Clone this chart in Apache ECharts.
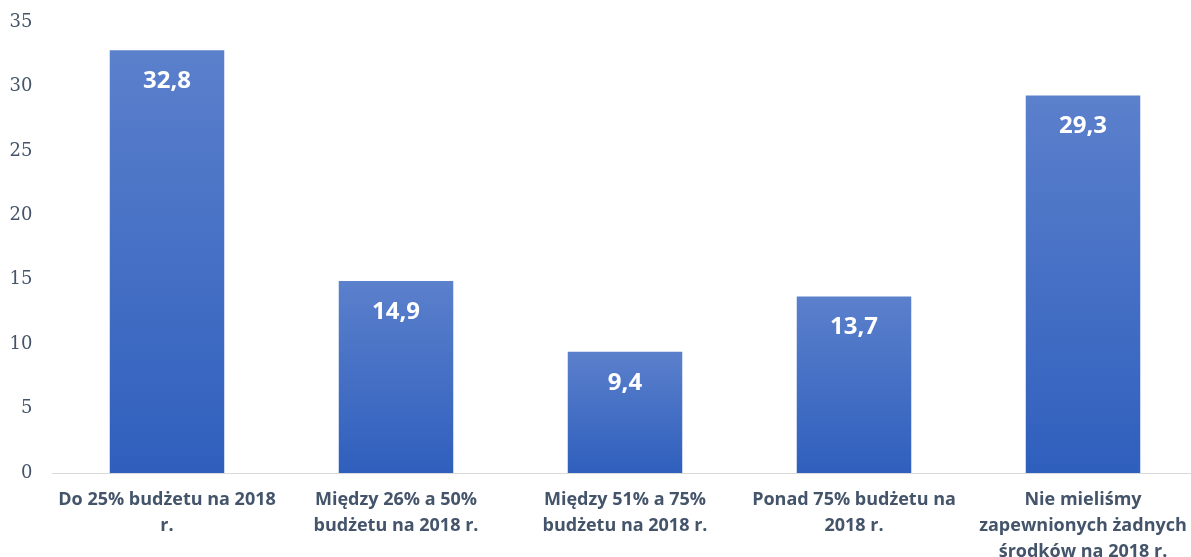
<!DOCTYPE html>
<html><head><meta charset="utf-8">
<script src="https://cdn.jsdelivr.net/npm/echarts@6/dist/echarts.min.js"></script>
<style>html,body{margin:0;padding:0;background:#fff}#c{width:1191px;height:557px}</style>
</head><body><div id="c"></div>
<script>
var categories = [
  "Do 25% budżetu na 2018\nr.",
  "Między 26% a 50%\nbudżetu na 2018 r.",
  "Między 51% a 75%\nbudżetu na 2018 r.",
  "Ponad 75% budżetu na\n2018 r.",
  "Nie mieliśmy\nzapewnionych żadnych\nśrodków na 2018 r."
];
var values = [32.8, 14.9, 9.4, 13.7, 29.3];
var yTicks = [0, 5, 10, 15, 20, 25, 30, 35];

var chart = echarts.init(document.getElementById('c'));
chart.setOption({
  animation: false,
  grid: {left: 52.5, width: 1145, top: 22, bottom: 84, containLabel: false, outerBoundsMode: 'none'},
  xAxis: {
    type: 'category', data: categories,
    axisLine: {lineStyle: {color: '#d9d9d9', width: 1}},
    axisTick: {show: false},
    axisLabel: {interval: 0, color: '#44546a', fontSize: 18, fontWeight: 'bold', fontFamily: 'Open Sans', lineHeight: 26, margin: 14}
  },
  yAxis: {
    type: 'value', min: yTicks[0], max: yTicks[yTicks.length-1], interval: 5,
    splitLine: {show: false}, axisLine: {show: false}, axisTick: {show: false},
    axisLabel: {color: '#44546a', fontSize: 18, fontFamily: 'DejaVu Serif', margin: 20}
  },
  series: [{
    type: 'bar', data: values, barCategoryGap: '50%',
    itemStyle: {
      color: new echarts.graphic.LinearGradient(0, 0, 0, 1, [
        {offset: 0, color: '#5b80cc'},
        {offset: 1, color: '#2f5fbd'}
      ])
    },
    label: {
      show: true, position: 'insideTop', distance: 19,
      color: '#fff', fontWeight: 'bold', fontSize: 24, fontFamily: 'Open Sans',
      formatter: function(p){ return String(p.value).replace('.', ','); }
    }
  }]
});
</script></body></html>
